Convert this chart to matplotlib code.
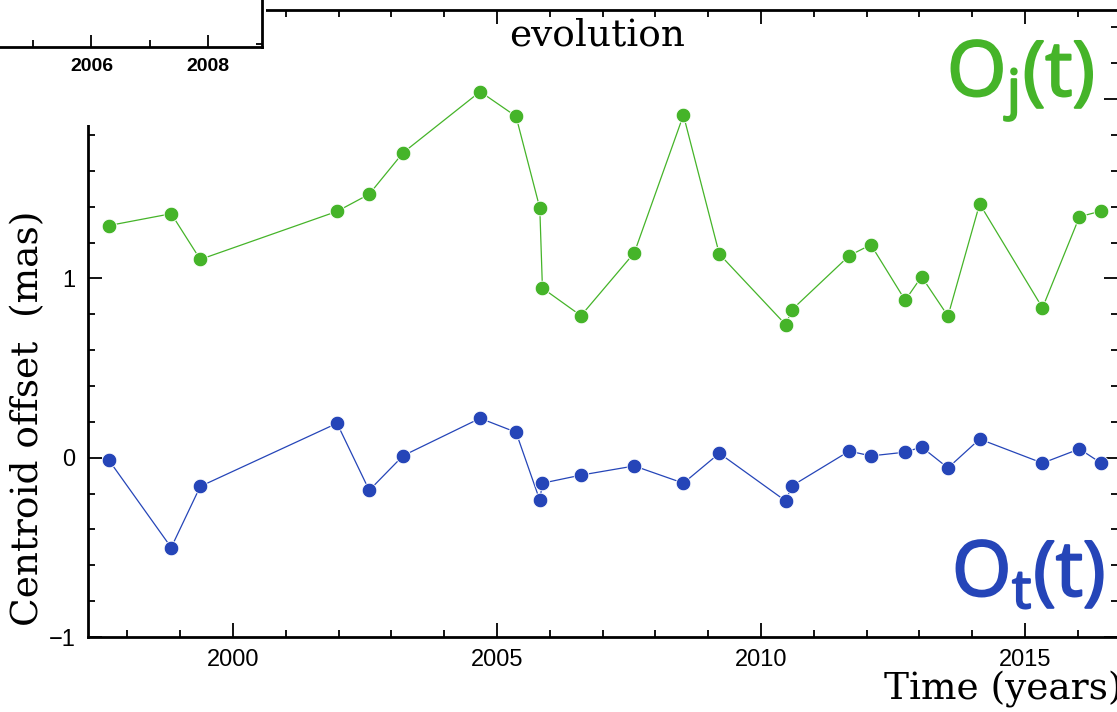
import numpy as np
import matplotlib
matplotlib.use("Agg")
import matplotlib.pyplot as plt
import matplotlib.patheffects as pe
from matplotlib.patches import Rectangle
from matplotlib.ticker import MultipleLocator

# observation epochs (years) and centroid offsets (mas)
years = [1997.65, 1998.83, 1999.38, 2001.97, 2002.58, 2003.22, 2004.68, 2005.36,
         2005.81, 2005.86, 2006.59, 2007.60, 2008.53, 2009.21, 2010.47, 2010.58,
         2011.67, 2012.08, 2012.73, 2013.04, 2013.54, 2014.14, 2015.33, 2016.03,
         2016.44]
o_jet = [1.295, 1.361, 1.106, 1.374, 1.470, 1.701, 2.042, 1.904,
         1.393, 0.946, 0.792, 1.143, 1.911, 1.136, 0.741, 0.824,
         1.127, 1.188, 0.878, 1.010, 0.790, 1.416, 0.836, 1.344,
         1.376]
o_tot = [-0.014, -0.501, -0.160, 0.192, -0.182, 0.011, 0.220, 0.142,
         -0.237, -0.142, -0.097, -0.046, -0.142, 0.025, -0.242, -0.158,
         0.037, 0.010, 0.031, 0.060, -0.057, 0.104, -0.030, 0.049,
         -0.030]

inset_ticks = [2006, 2008]

GREEN = '#45b429'
BLUE = '#2545b8'
W, H = 1117, 712

def fx(px):
    return px / W

def fy(py):
    return 1 - py / H

fig = plt.figure(figsize=(W / 100, H / 100), dpi=100)
ax = fig.add_axes([fx(88), fy(637), fx(1118) - fx(88), fy(9.5) - fy(637)])

ax.plot(years, o_jet, '-', color=GREEN, lw=0.9, zorder=2)
ax.plot(years, o_jet, 'o', color=GREEN, ms=10.5, mec='white', mew=0.6, zorder=3)
ax.plot(years, o_tot, '-', color=BLUE, lw=0.9, zorder=2)
ax.plot(years, o_tot, 'o', color=BLUE, ms=10.5, mec='white', mew=0.6, zorder=3)

ax.set_xlim(1997.254, 2016.76)
ax.set_ylim(-1.0, 2.5)
ax.xaxis.set_major_locator(MultipleLocator(5))
ax.xaxis.set_minor_locator(MultipleLocator(1))
ax.yaxis.set_major_locator(MultipleLocator(1))
ax.yaxis.set_minor_locator(MultipleLocator(0.2))
ax.tick_params(which='both', direction='in', top=True, right=True, width=1.3,
               labelsize=17, pad=9)
ax.tick_params(which='major', length=10)
ax.tick_params(which='minor', length=5)
for lab in ax.get_xticklabels() + ax.get_yticklabels():
    lab.set_family('Liberation Sans')
for s in ax.spines.values():
    s.set_linewidth(2)

# white cover over top-left corner, with the remains of an inset panel
fig.add_artist(Rectangle((0, fy(125)), fx(266), 1 - fy(125), transform=fig.transFigure,
                         facecolor='white', edgecolor='none', zorder=5))

ins = fig.add_axes([fx(-100), fy(47), fx(262) - fx(-100), fy(-60) - fy(47)], zorder=6)
ins.set_xlim(2006 - 192 / 58.5, 2008 + 54 / 58.5)
ins.set_ylim(0, 1)
ins.set_xticks(inset_ticks)
ins.set_xticklabels([str(t) for t in inset_ticks], fontweight='bold', fontsize=14,
                    family='Liberation Sans')
ins.xaxis.set_minor_locator(MultipleLocator(1))
ins.set_yticks([0.03, 0.57])
ins.set_yticklabels([])
ins.yaxis.tick_right()
ins.tick_params(which='both', direction='in', width=1.3)
ins.tick_params(axis='x', which='major', length=9, pad=8)
ins.tick_params(axis='x', which='minor', length=5)
ins.tick_params(axis='y', length=4)
for s in ins.spines.values():
    s.set_linewidth(2)
ins.spines['left'].set_visible(False)

fig.text(fx(597), fy(35), 'evolution', family='DejaVu Serif', fontsize=27,
         ha='center', va='center', zorder=7)
fig.text(fx(28), fy(418), 'Centroid offset  (mas)', family='DejaVu Serif', fontsize=27,
         rotation=90, ha='center', va='center')
fig.text(fx(884), fy(690), 'Time (years)', family='DejaVu Serif', fontsize=27,
         ha='left', va='center')

fig.text(fx(947), fy(96), r'$\mathregular{O_j(t)}$', family='Open Sans', fontsize=55,
         color=GREEN, ha='left', va='baseline', zorder=7,
         path_effects=[pe.withStroke(linewidth=1.6, foreground=GREEN)])
fig.text(fx(952), fy(596), r'$\mathregular{O_t(t)}$', family='Open Sans', fontsize=55,
         color=BLUE, ha='left', va='baseline', zorder=7,
         path_effects=[pe.withStroke(linewidth=1.6, foreground=BLUE)])

fig.savefig('out.png', dpi=100)
